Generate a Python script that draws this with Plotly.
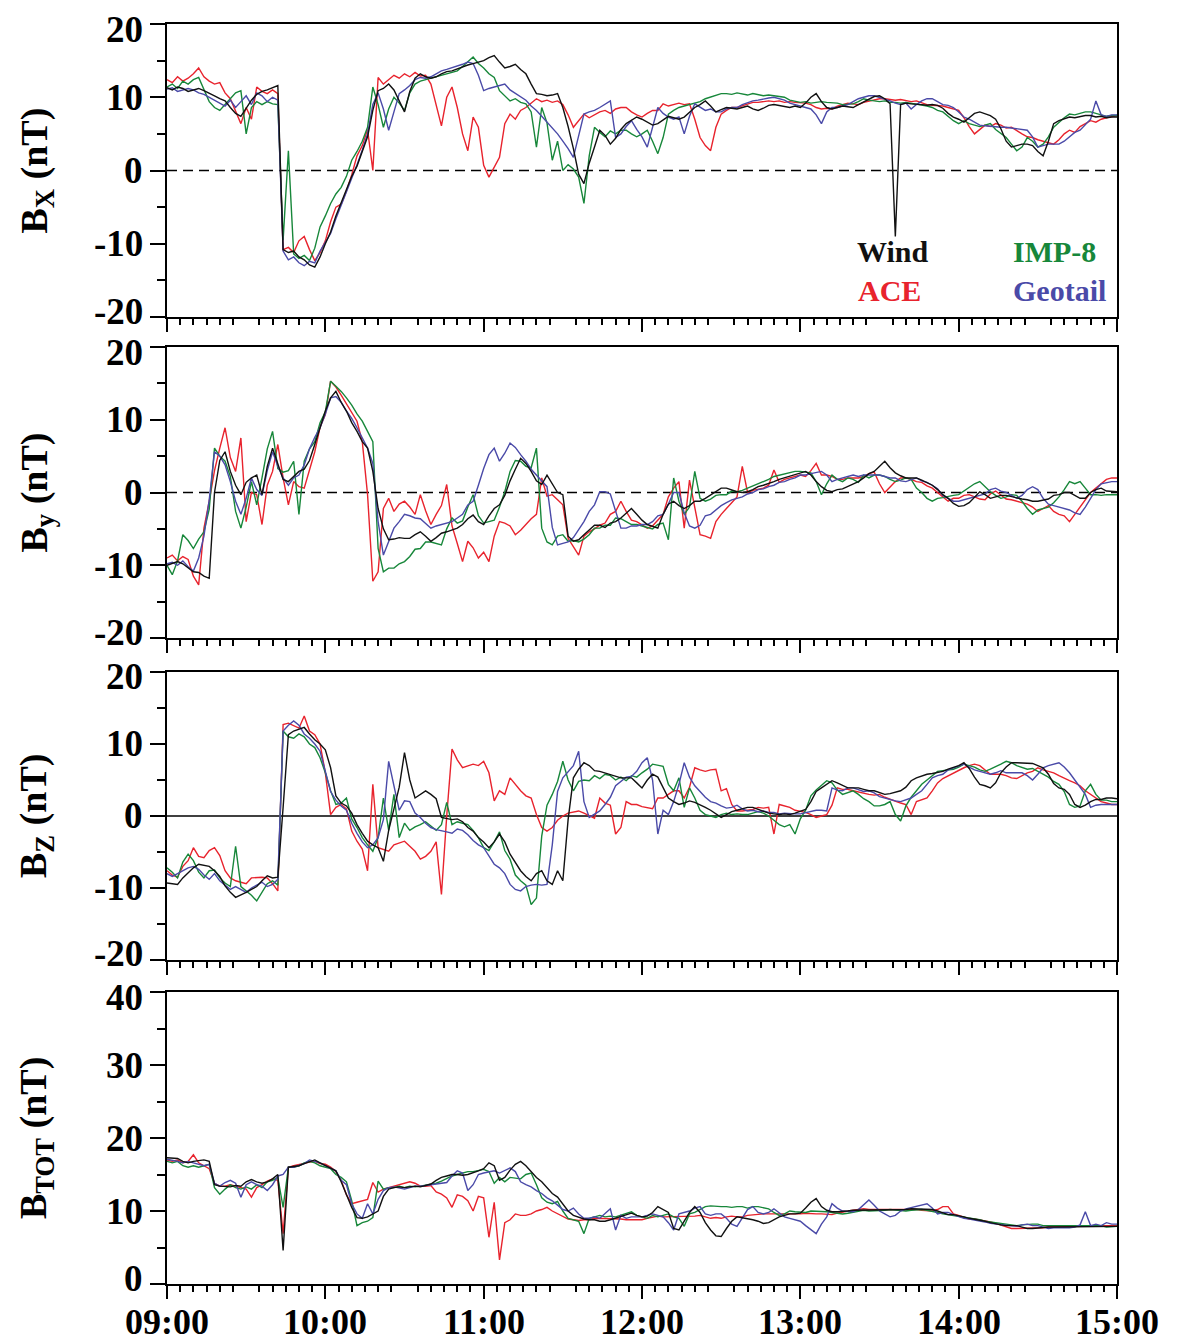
import plotly.graph_objects as go

# Sampling grid: minutes after 09:00 UT, every 2 minutes
minutes = list(range(0, 361, 2))

hour_ticks = [0, 60, 120, 180, 240, 300, 360]
hour_labels = ["09:00", "10:00", "11:00", "12:00", "13:00", "14:00", "15:00"]
half_hour_ticks = [30, 90, 150, 210, 270, 330]
five_min_ticks = [m for m in range(0, 361, 5) if m % 30 != 0]

# ---------------- Bx (nT) ----------------
wind_bx = [
    11.3, 11.0, 11.4, 11.2, 10.8, 11.0, 11.2, 10.9, 10.6, 10.2,
    9.8, 9.5, 8.6, 7.8, 7.4, 8.5, 9.6, 10.4, 10.8, 11.0,
    11.3, 11.6, -10.8, -11.2, -11.0, -11.8, -12.2, -12.9, -13.2, -11.8,
    -10.0, -8.4, -6.2, -4.4, -2.6, -0.8, 0.6, 2.6, 4.6, 8.2,
    10.9, 11.2, 11.8, 11.0, 9.6, 8.0, 10.8, 12.6, 13.2, 12.8,
    12.6, 12.8, 13.2, 13.5, 13.6, 13.9, 14.2, 14.4, 14.6, 14.8,
    15.0, 15.4, 15.7, 14.8, 14.0, 14.2, 14.5, 13.8, 13.2, 11.8,
    10.5, 10.4, 10.2, 10.3, 10.5, 8.6, 6.0, 3.0, -0.5, -1.8,
    1.0, 3.2, 5.5, 4.8, 3.6, 4.4, 5.6, 6.4, 6.8, 7.3,
    7.0, 6.6, 6.2, 6.4, 6.9, 7.4, 7.2, 7.0, 7.3, 8.0,
    8.6, 9.0, 9.5, 8.8, 8.0, 8.3, 8.6, 8.5, 8.4, 8.6,
    8.8, 8.4, 8.2, 8.5, 8.9, 9.0, 8.9, 8.7, 8.6, 8.8,
    8.6, 9.2, 10.0, 10.5, 9.4, 8.6, 8.4, 8.6, 8.8, 8.7,
    8.6, 9.0, 9.4, 9.8, 10.1, 10.2, 9.8, 9.1, -9.0, 9.0,
    9.2, 9.1, 9.1, 9.0, 8.9, 9.0, 8.9, 8.5, 7.8, 7.3,
    7.0, 6.6, 7.2, 7.8, 8.0, 7.8, 7.5, 7.0, 5.7, 4.0,
    3.2, 3.4, 3.6, 3.6, 3.4, 2.6, 2.0, 4.0, 6.4, 6.8,
    7.0, 7.3, 7.2, 7.4, 7.5, 7.5, 7.3, 7.4, 7.2, 7.3,
    7.3,
]
ace_bx = [
    12.4, 12.0, 12.8, 12.2, 12.6, 13.2, 14.0, 12.8, 12.2, 11.8,
    12.0, 10.6, 9.8, 8.2, 6.4, 8.6, 7.0, 11.4, 10.8, 10.5,
    11.0, 10.5, -10.8, -10.5, -11.2, -9.6, -9.0, -10.8, -12.3, -11.2,
    -9.6, -7.0, -5.0, -4.6, -2.8, -0.6, 2.0, 3.4, 5.6, 0.0,
    12.7, 11.8, 12.4, 13.0, 12.6, 13.2, 12.8, 13.4, 12.9, 13.0,
    11.8, 9.0, 6.1, 10.0, 11.4, 8.6, 5.0, 2.7, 7.3, 5.9,
    0.7, -0.9, 0.5, 1.8, 6.4, 7.7, 7.0, 8.2, 8.6, 9.2,
    9.8, 9.4, 9.6, 9.3, 9.5, 9.0, 7.6, 5.9, 6.8, 7.7,
    7.2, 7.6, 8.0, 8.2, 7.8, 8.4, 8.6, 8.6, 8.0, 7.6,
    7.3, 7.8, 8.2, 8.2, 9.1, 8.8, 9.0, 9.2, 9.0, 9.1,
    7.0, 4.5, 3.4, 2.7, 5.9, 7.7, 8.2, 8.6, 8.6, 8.8,
    9.0, 9.3, 9.3, 9.4, 9.5, 9.4, 9.5, 9.3, 9.4, 9.3,
    9.3, 9.2, 9.0, 8.6, 8.4, 8.5, 8.4, 8.8, 9.0, 9.2,
    9.1, 9.0, 9.3, 9.5, 9.6, 9.8, 9.8, 9.7, 9.6, 9.7,
    9.5, 9.4, 9.5, 9.2, 9.0, 8.9, 8.9, 8.8, 8.6, 8.4,
    8.2, 7.2, 6.0, 5.0, 5.6, 6.2, 6.0, 6.4, 6.2, 5.8,
    5.9, 5.4, 5.0, 4.6, 4.5, 4.2, 4.0, 3.8, 3.6, 4.2,
    5.0, 5.5, 5.2, 6.0, 6.4, 6.8, 6.6, 7.0, 7.2, 7.4,
    7.5,
]
imp8_bx = [
    11.4, 11.8, 11.2, 12.2, 11.8, 12.4, 12.7, 11.0, 9.4, 8.6,
    8.2, 9.0, 9.8, 10.6, 10.9, 5.0, 8.6, 9.4, 9.0, 9.4,
    9.1, 9.0, -9.5, 2.7, -11.4, -12.0, -11.6, -12.3, -10.6, -7.7,
    -6.2, -4.5, -3.2, -2.3, -0.8, 1.4, 2.6, 4.0, 5.9, 11.4,
    9.0, 5.9, 8.4, 10.0, 9.2, 8.2, 10.6, 11.8, 12.2, 12.4,
    12.7, 12.8, 13.0, 13.2, 13.4, 13.6, 14.2, 14.8, 15.5, 14.6,
    14.0, 13.2, 12.7, 10.9, 10.2, 9.5, 9.8, 9.3, 9.1, 8.0,
    3.2, 8.6, 6.5, 1.4, 4.0, 0.0, 0.8, 0.2, -0.9, -4.5,
    2.0, 5.9, 5.2, 4.6, 5.4, 5.0, 5.5, 5.5, 5.0, 4.6,
    5.0, 5.5, 4.0, 2.3, 4.5, 7.7, 8.2, 8.6, 8.8, 9.0,
    9.1, 9.4, 9.8, 10.0, 10.3, 10.5, 10.5, 10.4, 10.6, 10.5,
    10.3, 10.5, 10.4, 10.2, 10.3, 10.2, 10.2, 10.0, 9.6, 9.4,
    9.3, 9.4, 9.2, 9.3, 9.4, 9.3, 9.3, 9.2, 9.0, 9.0,
    9.1, 9.4, 9.8, 9.6, 9.5, 9.4, 9.5, 9.3, 9.3, 9.2,
    9.3, 9.2, 9.1, 9.0, 8.8, 8.6, 8.2, 8.0, 7.4, 6.8,
    6.4, 6.8, 6.4, 6.2, 6.0, 6.2, 6.4, 5.6, 5.0, 4.5,
    3.6, 2.7, 3.2, 4.5, 4.0, 3.2, 3.6, 4.6, 5.9, 6.6,
    7.2, 7.7, 7.6, 7.8, 8.0, 8.0, 7.8, 7.6, 7.4, 7.5,
    7.5,
]
geotail_bx = [
    11.1, 11.3, 10.8, 11.0, 11.2, 11.0, 10.6, 10.4, 10.0, 9.6,
    9.2, 8.8, 9.6, 8.6, 9.4, 10.2, 9.0, 10.6, 10.2, 9.4,
    10.0, 9.6, -11.0, -12.2, -11.8, -12.6, -13.0, -12.4, -12.6, -11.0,
    -9.8, -8.6, -6.6, -4.8, -3.0, -1.0, 0.8, 2.8, 5.0, 9.0,
    10.6, 8.4, 5.5, 8.0, 10.5, 11.0, 11.6, 12.4, 12.7, 12.6,
    12.8, 13.2, 13.6, 13.8, 14.0, 14.3, 14.5, 14.8, 14.6, 13.0,
    10.9, 11.2, 11.4, 11.6, 11.8, 11.0, 10.5, 10.0, 9.6, 8.8,
    8.2, 7.4, 6.6, 5.9, 5.0, 4.0, 3.0, 1.8, 4.6, 7.7,
    8.0, 8.2, 8.6, 9.0, 9.5, 4.5, 5.0, 6.0, 6.8, 5.6,
    4.6, 3.2, 5.8, 8.6, 7.8, 7.3, 7.0, 7.3, 5.0, 7.4,
    9.1, 8.6, 8.2, 8.4, 8.0, 8.0, 8.4, 8.6, 8.6, 9.0,
    9.3, 9.5, 9.6, 9.8, 9.9, 10.0, 9.8, 9.6, 9.2, 9.0,
    8.8, 8.6, 8.4, 7.6, 6.4, 8.0, 8.6, 8.6, 8.8, 9.0,
    9.4, 9.8, 10.0, 10.2, 10.2, 10.0, 9.8, 9.5, 9.2, 9.0,
    9.2, 8.4, 9.0, 9.5, 9.8, 9.8, 9.4, 9.0, 8.9, 8.6,
    8.0, 7.3, 7.0, 6.6, 6.2, 6.1, 6.0, 6.0, 5.9, 5.9,
    5.8, 5.6, 5.5, 5.5, 4.6, 3.2, 3.4, 3.6, 3.6, 3.6,
    4.0, 4.6, 5.2, 5.5, 6.2, 7.0, 9.5, 7.6, 7.4, 7.6,
    7.6,
]

# ---------------- By (nT) ----------------
wind_by = [
    -10.0, -9.8, -9.5, -9.8, -10.4, -10.9, -11.0, -11.5, -11.8, 0.0,
    4.4, 5.6, 2.9, 1.0, -0.3, 1.4, 2.0, 2.4, -0.3, 3.6,
    6.1, 4.0, 1.8, 1.5, 2.2, 2.9, 3.2, 4.4, 6.6, 8.9,
    11.2, 13.0, 13.9, 12.4, 11.2, 9.6, 8.4, 7.0, 6.1, 2.9,
    -2.2, -5.0, -6.5, -6.4, -6.2, -6.3, -6.3, -5.8, -5.4, -6.0,
    -6.7, -6.2, -5.6, -5.4, -5.2, -4.9, -4.4, -3.6, -3.1, -4.0,
    -4.4, -3.2, -2.2, -1.7, -0.4, 1.6, 3.2, 4.7, 4.0, 2.9,
    1.6, 1.1, 2.4, 1.2, 0.0, -0.3, -6.0, -6.7, -6.5, -5.8,
    -5.2, -4.5, -4.5, -4.8, -4.2, -4.0, -3.5, -2.8, -2.2, -3.0,
    -3.8, -4.4, -4.6, -4.9, -3.0, -1.6, -1.2, -1.8, -2.2, -1.8,
    -1.2, -1.2, -0.8, -0.3, 0.2, 0.6, 0.6, 0.3, 0.1, 0.0,
    0.1, 0.4, 0.8, 1.0, 1.2, 1.5, 1.8, 2.0, 2.2, 2.5,
    2.7, 2.9, 2.4, 1.5, 0.8, 0.3, 0.1, 0.4, 0.5, 0.8,
    1.2, 1.5, 2.0, 2.6, 2.9, 3.6, 4.3, 3.4, 2.7, 2.3,
    2.0, 2.0, 2.0, 1.7, 1.3, 1.0, 0.4, -0.3, -0.8, -1.5,
    -1.9, -1.8, -1.4, -0.6, 0.1, -0.3, -0.8, -0.6, -0.4, -0.4,
    -0.6, -0.8, -0.9, -1.0, -1.2, -1.2, -1.0, -0.9, -0.4, -0.3,
    0.0, 0.0, -0.4, -0.8, -0.8, 0.0, 0.4, 0.6, 0.2, 0.1,
    0.1,
]
ace_by = [
    -9.0, -8.6, -9.4, -8.8, -9.2, -11.5, -12.7, -4.9, -1.2, 3.0,
    6.1, 8.9, 4.8, 2.9, 7.5, -4.0, 0.0, -0.3, -4.4, 1.0,
    2.9, 6.6, 2.0, -1.7, 1.5, 0.8, 0.6, 3.0, 5.6, 9.0,
    10.7, 15.3, 14.5, 13.4, 12.2, 11.0, 9.8, 7.0, -0.3, -12.2,
    -10.9, -2.2, -0.8, -2.6, -1.6, -1.2, -2.0, -3.0, -0.3, -2.5,
    -4.4, -3.0, -1.8, 1.1, -4.6, -7.0, -9.5, -6.7, -7.6, -9.0,
    -8.2, -9.5, -6.0, -4.0, -4.2, -4.6, -5.8, -5.2, -4.4, -3.6,
    -3.0, 2.0, -0.5, -0.3, -1.0, -1.7, -6.3, -7.4, -8.6, -6.0,
    -5.4, -5.0, -4.5, -4.2, -3.0, -2.6, -1.2, -2.6, -3.8, -4.0,
    -4.4, -4.9, -4.6, -3.8, -3.0, -0.6, 0.6, 1.5, -4.9, 1.7,
    -2.0, -5.8, -6.0, -6.3, -4.0, -3.0, -2.2, -1.4, -0.6, 3.6,
    0.0, 0.3, 0.5, 0.6, 1.0, 3.1, 1.4, 1.8, 2.0, 2.2,
    2.4, 2.2, 3.0, 4.0, 2.4, 2.4, 2.2, 1.8, 1.8, 2.0,
    2.0, 2.0, 2.2, 2.6, 2.8, 1.2, 0.0, 0.8, 1.5, 2.0,
    2.0, 1.8, 1.5, 1.4, 0.9, 0.6, 0.0, -0.6, -1.2, -0.8,
    -0.8, -0.4, -0.3, -0.6, -0.9, -1.0, -0.2, 0.2, -0.4, -0.9,
    -1.0, -1.2, -1.4, -1.6, -2.0, -2.6, -2.2, -1.8, -2.6, -3.0,
    -3.2, -4.0, -3.0, -2.0, -1.0, 0.0, 0.6, 1.2, 1.8, 2.0,
    2.0,
]
imp8_by = [
    -10.0, -11.3, -9.4, -5.8, -6.6, -7.7, -6.4, -5.4, -2.3, 6.1,
    5.0, 4.3, 2.2, -2.6, -4.9, -2.0, 1.5, -1.7, 2.0, 6.0,
    8.4, 3.3, 2.8, 3.0, 4.3, -3.0, 4.3, 6.0, 7.0, 9.6,
    11.1, 15.3, 14.6, 13.9, 13.0, 12.0, 10.8, 9.8, 8.4, 7.0,
    -7.7, -10.9, -10.4, -10.4, -9.8, -9.5, -8.8, -7.8, -7.7, -6.8,
    -6.8, -7.0, -7.2, -5.0, -3.5, -4.2, -3.9, -2.0, -0.3, -3.2,
    -4.2, -4.0, -3.8, -2.0, 0.1, 2.9, 4.4, 4.3, 3.6, 3.4,
    6.1, -4.9, -6.8, -7.2, -6.0, -5.8, -6.7, -6.6, -6.8, -6.4,
    -5.8, -4.9, -4.9, -4.5, -4.5, -3.5, -3.6, -4.0, -4.4, -4.4,
    -4.6, -4.9, -5.0, -4.4, -4.2, -6.5, 2.0, -1.2, -3.0, -2.0,
    2.9, -0.8, -1.2, -0.9, -0.4, -0.3, -0.3, 0.2, 0.1, 0.3,
    0.6, 0.9, 1.1, 1.4, 1.8, 2.2, 2.4, 2.6, 2.7, 2.9,
    2.9, 2.8, 2.7, 1.5, -0.3, 1.2, 2.4, 1.8, 1.5, 2.0,
    1.8, 1.4, 2.4, 2.0, 2.4, 2.4, 2.2, 1.8, 1.5, 1.7,
    2.0, 1.8, 0.6, 0.0, -0.8, -1.2, -0.8, -0.7, -0.5, -0.4,
    -0.3, 0.2, 0.6, 1.2, 1.5, 0.8, 0.1, -0.4, -0.8, -0.6,
    -0.3, -0.4, -1.2, -2.2, -3.0, -2.4, -2.2, -2.0, -1.4, -0.6,
    0.4, 1.5, 1.2, 1.5, 0.6, -0.3, -0.3, -0.4, -0.3, -0.3,
    -0.3,
]
geotail_by = [
    -9.8, -9.6, -10.0, -9.4, -10.2, -10.8, -9.0, -6.0, -1.0, 5.6,
    5.0, 3.8, 1.5, -1.2, -3.0, -0.8, 2.0, 0.4, -0.4, 3.0,
    5.6, 3.6, 2.0, 1.0, 2.0, 2.4, 3.8, 6.0, 7.6, 8.9,
    10.8, 13.0, 13.2, 12.4, 11.2, 10.2, 8.9, 7.4, 6.1, 4.0,
    -4.0, -8.6, -6.8, -4.9, -4.0, -3.0, -3.2, -3.5, -3.6, -4.2,
    -4.9, -4.6, -4.4, -4.2, -4.0, -3.5, -3.0, -1.7, -1.2, 1.0,
    3.3, 5.2, 6.1, 4.3, 5.4, 6.8, 6.2, 5.2, 4.3, 3.2,
    2.4, 1.6, 0.8, -4.8, -7.2, -7.0, -6.8, -6.2, -5.0, -4.0,
    -2.6, -1.7, 0.1, 0.1, -0.2, -2.5, -4.9, -4.9, -4.6, -4.6,
    -4.4, -4.4, -4.0, -3.2, -3.0, -1.6, 0.0, 0.0, -2.8, -4.6,
    -4.9, -4.5, -3.2, -3.0, -2.4, -1.8, -1.4, -1.0, -0.8, -0.6,
    -0.2, 0.0, 0.4, 0.5, 0.8, 1.0, 1.4, 1.5, 1.8, 2.0,
    2.4, 2.4, 2.6, 2.8, 2.9, 2.4, 1.5, 1.8, 2.0, 2.2,
    2.4, 2.2, 2.4, 2.4, 2.4, 2.4, 2.2, 2.0, 2.0, 1.6,
    1.5, 1.8, 2.0, 1.6, 1.4, 1.0, 0.5, -0.4, -0.8, -1.2,
    -1.2, -1.0, -0.8, -0.6, -0.4, -0.2, 0.4, 0.6, 0.2, 0.0,
    -0.4, -0.8, -0.4, 0.4, 0.8, 0.4, -0.8, -1.6, -1.8, -2.0,
    -2.2, -2.4, -2.8, -3.0, -2.0, -0.8, 0.4, 1.2, 1.4, 1.5,
    1.5,
]

# ---------------- Bz (nT) ----------------
wind_bz = [
    -9.3, -9.4, -9.5, -8.6, -7.9, -7.2, -6.7, -6.8, -7.0, -7.6,
    -8.4, -9.7, -10.6, -11.3, -11.0, -10.6, -10.2, -9.8, -9.0, -8.3,
    -8.6, -8.5, 1.2, 11.3, 11.8, 12.0, 12.3, 11.4, 10.6, 10.0,
    9.2, 6.7, 2.8, 1.8, 1.4, 0.4, -1.2, -2.4, -3.5, -4.0,
    -4.4, -6.3, -2.0, 1.0, 4.0, 8.8, 5.0, 2.5, 3.0, 3.5,
    3.0, 2.4, -0.2, -0.4, -0.5, -0.4, -0.8, -1.6, -2.1, -3.0,
    -3.6, -4.4, -3.6, -2.5, -3.6, -5.3, -6.4, -7.6, -8.4, -9.0,
    -8.0, -7.6, -9.0, -9.5, -7.6, -9.0, -0.5, 5.3, 6.5, 7.4,
    7.0, 6.3, 6.2, 6.0, 5.8, 5.6, 5.3, 5.3, 5.3, 4.6,
    3.9, 5.0, 5.8, 5.4, 4.0, 2.5, 2.0, 1.6, 1.8, 2.1,
    1.9, 1.6, 1.2, 0.8, 0.3, -0.2, 0.2, 0.6, 0.8, 1.0,
    1.2, 1.2, 0.9, 0.7, 0.4, 0.3, 0.2, 0.3, 0.2, 0.4,
    0.7, 0.9, 2.0, 3.4, 3.9, 4.4, 4.9, 4.6, 4.2, 3.9,
    3.9, 3.9, 3.7, 3.5, 3.5, 3.3, 3.0, 3.1, 3.3, 3.5,
    4.0, 4.9, 5.3, 5.6, 5.8, 5.9, 6.0, 6.2, 6.5, 6.7,
    7.0, 7.4, 6.6, 5.4, 4.4, 4.2, 3.9, 4.6, 6.0, 6.8,
    7.4, 7.4, 7.4, 7.4, 7.3, 7.0, 6.7, 5.8, 4.5, 3.9,
    3.7, 3.0, 1.6, 1.2, 1.5, 2.0, 2.3, 2.3, 2.5, 2.5,
    2.4,
]
ace_bz = [
    -7.6, -8.2, -8.5, -7.0, -6.2, -4.4, -5.6, -5.8, -4.8, -4.4,
    -5.5, -7.6, -8.6, -9.0, -9.2, -9.4, -8.6, -8.5, -8.5, -8.6,
    -9.4, -10.4, 12.7, 12.9, 12.6, 12.2, 13.9, 11.8, 11.3, 10.0,
    6.0, 0.2, 1.2, 1.6, 1.0, -2.1, -3.5, -4.6, -7.6, 4.4,
    -4.4, -4.6, -4.9, -4.0, -3.8, -3.5, -4.2, -4.9, -6.0, -5.6,
    -4.9, -3.6, -10.9, 0.0, 9.3, 7.8, 6.7, 7.0, 7.2, 7.0,
    7.6, 6.0, 2.1, 3.5, 3.0, 5.3, 4.4, 3.5, 2.8, 2.5,
    0.2, -1.6, -2.1, -1.6, -0.6, 0.0, 0.4, 0.6, 0.7, 0.4,
    0.0, -0.3, 2.5, 1.8, 1.5, -2.5, -1.6, 2.0, 1.6, 1.6,
    1.3, 1.2, 1.0, 2.5, 2.5, 3.0, 3.5, 3.5, 2.5, 4.0,
    6.7, 6.4, 6.2, 6.4, 6.5, 3.5, 3.8, 1.6, 0.7, 0.7,
    0.8, 0.9, 1.2, 1.1, 1.2, -2.5, 1.6, 1.4, 1.2, 0.8,
    0.7, 0.5, 0.2, -0.2, 0.0, 0.2, 1.5, 3.9, 3.7, 3.7,
    3.5, 3.3, 3.1, 3.0, 2.9, 3.0, 2.6, 2.3, 2.0, 1.8,
    1.6, 0.2, 2.0, 2.2, 2.5, 3.5, 4.6, 5.2, 5.6, 6.0,
    6.4, 6.7, 7.0, 7.2, 7.0, 6.4, 5.8, 5.8, 5.8, 5.6,
    5.3, 5.2, 5.6, 6.0, 6.2, 6.7, 6.4, 6.2, 6.0, 5.6,
    5.2, 4.9, 4.6, 4.2, 3.5, 3.0, 2.4, 2.0, 1.8, 1.6,
    1.6,
]
imp8_bz = [
    -7.2, -7.8, -8.6, -6.4, -5.3, -6.2, -7.8, -8.6, -7.6, -7.5,
    -8.6, -9.3, -9.8, -4.2, -9.8, -10.4, -11.0, -11.8, -10.6, -9.4,
    -9.0, -9.6, 11.8, 11.0, 10.8, 11.4, 11.0, 10.0, 9.5, 8.1,
    6.0, 3.5, 1.6, 1.8, 2.5, -0.4, -1.6, -3.0, -4.0, -4.9,
    -3.0, 2.5, -2.0, 3.0, -3.0, -1.0, -2.0, -1.5, -1.2, -0.8,
    -1.4, -2.0, -1.2, 1.9, -1.2, -0.8, -1.0, -1.2, -2.0, -3.0,
    -4.4, -4.8, -3.6, -2.2, -4.8, -6.0, -8.2, -9.0, -9.6, -12.3,
    -11.4, -2.8, 1.5, 3.0, 4.8, 7.6, 5.0, 3.5, 4.8, 5.0,
    4.9, 5.6, 5.2, 5.8, 5.6, 5.0, 5.4, 4.9, 5.6, 5.4,
    6.0, 6.5, 7.2, 7.0, 6.9, 4.4, 3.5, 5.3, 1.2, 3.9,
    2.5, 0.8, 0.2, 0.0, -0.2, 0.2, 0.4, 0.2, 0.3, 0.2,
    0.2, 0.4, 0.6, 0.4, 0.0, -0.6, -1.2, -1.5, -1.2, -2.5,
    -0.4, 0.8, 2.8, 3.6, 4.2, 4.9, 4.6, 3.6, 3.0, 3.2,
    3.5, 3.0, 2.4, 2.0, 1.4, 1.4, 1.6, 2.0, 0.2, -0.7,
    1.4, 2.6, 3.5, 4.4, 5.0, 5.6, 6.2, 6.3, 6.4, 6.5,
    6.8, 7.2, 7.0, 6.8, 6.4, 6.2, 6.5, 6.8, 7.2, 7.6,
    7.4, 7.0, 6.8, 6.5, 6.6, 6.2, 5.8, 5.4, 4.8, 4.4,
    3.4, 1.6, 1.2, 1.4, 3.5, 4.4, 3.0, 2.2, 2.2, 2.0,
    2.0,
]
geotail_bz = [
    -8.0, -8.4, -8.0, -7.6, -7.2, -7.0, -7.4, -8.2, -8.8, -8.0,
    -9.0, -9.6, -10.2, -9.8, -10.2, -10.6, -10.0, -9.6, -9.2, -9.8,
    -9.5, -8.8, 11.8, 12.6, 13.2, 12.6, 11.4, 10.8, 10.0, 9.0,
    6.0, 3.4, 2.2, 1.4, 0.8, -1.0, -2.4, -3.6, -4.4, -4.0,
    -3.0, -0.5, 7.6, 4.0, 0.8, 2.1, 2.0, 0.4, -0.2, -1.0,
    -1.6, -1.9, -2.0, -2.2, -2.4, -1.8, -2.0, -2.6, -3.4, -4.0,
    -4.4, -5.6, -6.7, -7.2, -8.0, -9.5, -10.2, -10.4, -9.8, -9.6,
    -9.5, -9.6, -9.5, -4.0, 3.4, 5.3, 6.2, 7.0, 9.0, 2.0,
    -0.2, 0.2, 0.7, 1.6, 2.6, 4.2, 4.8, 5.4, 5.5, 6.2,
    7.4, 8.1, 5.0, -2.5, 0.8, 0.2, 2.0, 4.4, 7.4, 5.4,
    4.2, 3.4, 2.6, 2.0, 1.8, 1.4, 1.1, 1.2, 1.5, 1.0,
    0.7, 0.8, 0.6, 0.7, 0.5, 0.5, 0.3, 0.4, 0.3, 0.3,
    0.3, 0.5, 0.7, 0.8, 0.8, 0.7, 3.9, 3.6, 3.5, 3.9,
    3.9, 3.6, 3.4, 3.5, 3.2, 2.7, 2.5, 2.2, 2.1, 2.0,
    2.2, 2.5, 3.0, 3.5, 4.4, 5.3, 5.6, 5.8, 6.4, 6.7,
    7.0, 7.2, 6.8, 6.4, 6.2, 6.0, 5.8, 6.0, 6.3, 6.0,
    6.0, 6.0, 6.0, 5.6, 5.0, 5.8, 6.7, 7.0, 7.2, 7.4,
    6.8, 6.0, 5.0, 4.0, 3.0, 1.2, 1.5, 1.6, 1.6, 1.6,
    1.6,
]

# ---------------- |B| (nT) ----------------
wind_bt = [
    17.3, 17.3, 17.2, 16.8, 16.6, 16.8, 16.9, 17.0, 16.8, 13.6,
    13.4, 13.4, 13.3, 13.5, 13.4, 14.0, 14.3, 14.0, 13.8, 14.0,
    14.4, 15.0, 4.6, 16.0, 16.1, 16.2, 16.5, 16.8, 17.0, 16.6,
    16.2, 15.9, 15.5, 14.0, 12.3, 10.5, 9.1, 9.0, 9.2, 9.6,
    10.0, 12.0, 13.0, 13.2, 13.3, 13.2, 13.3, 13.4, 13.3, 13.5,
    13.7, 14.2, 14.6, 14.8, 15.0, 15.0, 14.9, 15.0, 15.2, 15.5,
    15.8, 16.6, 16.2, 14.2, 14.6, 15.6, 16.4, 16.8, 16.2, 15.4,
    14.6, 14.0, 13.2, 12.4, 11.9, 11.0, 10.0, 9.4, 9.1, 8.9,
    8.8, 8.8, 8.6, 8.6, 8.8, 9.0, 9.2, 9.5, 9.7, 9.4,
    9.2, 9.3, 9.8, 10.6, 10.2, 9.8, 7.6, 7.4, 8.6, 9.8,
    10.6, 9.8, 8.4, 7.4, 6.6, 6.5, 7.6, 8.6, 9.2, 9.1,
    9.0, 8.8, 8.6, 8.3, 8.4, 8.8, 9.2, 9.4, 9.6, 9.6,
    9.7, 10.4, 11.2, 11.7, 10.6, 10.1, 9.9, 9.9, 9.9, 10.0,
    10.1, 10.1, 10.1, 10.1, 10.1, 10.1, 10.1, 10.2, 10.2, 10.2,
    10.2, 10.3, 10.3, 10.3, 10.2, 10.2, 10.0, 9.7, 9.5, 9.5,
    9.4, 9.2, 9.0, 8.9, 8.8, 8.6, 8.4, 8.2, 8.1, 8.0,
    8.0, 8.0, 7.8, 7.6, 7.6, 7.7, 7.8, 7.8, 7.8, 7.8,
    7.8, 7.8, 7.8, 7.9, 7.9, 7.9, 7.9, 7.9, 7.8, 7.9,
    7.9,
]
ace_bt = [
    17.0, 16.8, 17.0, 16.6, 16.8, 17.7, 16.6, 16.2, 15.8, 13.8,
    13.4, 13.4, 13.6, 13.4, 13.2, 13.0, 11.9, 13.2, 13.6, 14.1,
    14.4, 14.2, 6.9, 16.0, 16.2, 16.4, 16.5, 16.7, 16.8, 16.5,
    16.4, 16.0, 15.4, 14.2, 12.2, 11.0, 11.2, 11.4, 11.6, 13.9,
    12.6, 13.0, 13.2, 13.4, 13.7, 13.9, 14.0, 13.8, 13.4, 13.4,
    13.5, 12.6, 12.3, 11.8, 10.5, 12.2, 12.0, 11.4, 10.0, 12.0,
    11.8, 6.4, 11.2, 3.3, 8.4, 8.8, 9.6, 9.4, 9.4, 9.6,
    10.0, 10.2, 10.5, 10.0, 9.6, 9.2, 8.9, 8.8, 8.7, 8.8,
    8.8, 9.0, 9.0, 8.9, 8.9, 9.0, 8.9, 8.8, 8.8, 8.7,
    8.8, 9.0, 9.2, 9.3, 9.2, 9.2, 9.3, 9.2, 9.2, 9.3,
    9.3, 9.4, 9.2, 9.0, 9.1, 9.0, 9.2, 9.3, 9.2, 9.2,
    9.4, 9.5, 9.6, 9.6, 9.6, 9.6, 9.6, 9.5, 9.6, 9.6,
    9.6, 9.7, 9.6, 9.6, 9.6, 9.5, 9.5, 9.7, 9.9, 10.0,
    10.1, 10.2, 10.3, 10.2, 10.2, 10.3, 10.3, 10.2, 10.3, 10.3,
    10.3, 10.2, 10.2, 10.1, 10.1, 10.0, 10.2, 10.6, 10.6, 9.6,
    9.4, 9.1, 8.9, 8.9, 8.8, 8.6, 8.5, 8.3, 8.1, 7.8,
    7.6, 7.6, 7.6, 7.6, 7.6, 7.7, 7.7, 7.8, 7.8, 7.8,
    7.9, 7.9, 7.9, 7.9, 8.0, 8.0, 8.0, 8.1, 8.0, 8.0,
    8.0,
]
imp8_bt = [
    16.8, 16.6, 16.8, 16.2, 16.0, 16.2, 16.0, 16.2, 16.4, 13.2,
    12.3, 13.0, 13.6, 13.2, 13.0, 13.3, 13.0, 13.6, 13.2, 14.0,
    14.2, 14.6, 10.5, 16.0, 16.0, 16.2, 16.6, 16.8, 16.6, 16.2,
    16.0, 15.8, 15.0, 14.6, 14.0, 11.4, 8.0, 8.4, 8.6, 9.1,
    14.1, 13.0, 13.2, 13.2, 13.4, 13.2, 13.4, 13.3, 13.4, 13.5,
    13.6, 13.8, 14.1, 14.5, 14.8, 15.0, 15.2, 15.4, 15.4, 15.6,
    15.7, 15.4, 13.8, 14.6, 14.0, 14.6, 14.5, 14.4, 15.0, 15.2,
    13.6, 11.8, 11.2, 11.0, 11.3, 10.0, 9.0, 8.8, 8.6, 6.9,
    9.0, 9.2, 9.4, 9.2, 9.3, 9.2, 9.4, 9.6, 9.9, 9.4,
    9.2, 9.0, 9.4, 9.2, 9.4, 9.6, 9.2, 9.0, 7.9, 9.6,
    9.8, 10.2, 10.6, 10.7, 10.6, 10.6, 10.6, 10.5, 10.6, 10.6,
    10.4, 10.6, 10.6, 10.5, 10.3, 9.8, 9.4, 9.6, 10.0, 9.9,
    9.8, 9.8, 10.0, 10.0, 10.0, 9.9, 9.8, 9.7, 9.6, 9.7,
    9.8, 10.0, 10.1, 10.0, 10.0, 10.1, 10.1, 10.2, 10.1, 10.1,
    10.0, 10.1, 10.2, 10.2, 10.1, 10.0, 9.8, 9.6, 9.5, 9.4,
    9.3, 9.2, 9.0, 8.9, 8.8, 8.6, 8.5, 8.4, 8.2, 8.1,
    8.0, 8.0, 8.1, 8.2, 8.2, 8.2, 8.0, 8.0, 8.0, 7.9,
    7.9, 8.0, 8.0, 8.0, 8.0, 7.9, 8.0, 8.0, 7.8, 7.9,
    7.9,
]
geotail_bt = [
    17.1, 17.0, 16.8, 16.6, 16.8, 16.6, 16.4, 16.2, 16.4, 13.8,
    13.4, 13.9, 14.2, 13.8, 11.9, 13.6, 14.0, 13.6, 13.4, 12.8,
    13.6, 14.8, 15.0, 16.0, 16.0, 16.2, 16.5, 17.0, 16.8, 16.6,
    16.2, 15.8, 15.5, 14.2, 13.6, 11.0, 9.6, 9.0, 11.0, 9.6,
    11.6, 12.8, 13.2, 13.3, 13.2, 13.0, 13.2, 13.4, 13.4, 13.5,
    13.6, 13.6, 13.7, 13.9, 14.8, 15.5, 15.2, 12.8, 13.6, 15.0,
    15.2, 15.4, 15.5, 15.2, 15.6, 15.9, 15.4, 14.0, 13.6, 13.3,
    12.8, 12.4, 11.8, 11.4, 10.8, 10.2, 10.0, 10.4, 9.6, 9.0,
    9.0, 9.2, 9.0, 9.6, 10.3, 7.4, 9.4, 9.0, 9.2, 9.2,
    9.2, 9.4, 9.6, 9.4, 9.2, 8.4, 7.4, 9.6, 9.8, 10.0,
    10.4, 10.6, 9.6, 9.4, 9.6, 9.6, 9.0, 8.2, 7.9, 9.0,
    10.2, 10.6, 9.8, 9.6, 9.8, 10.3, 9.8, 9.2, 9.0, 8.8,
    8.6, 8.0, 7.4, 6.9, 8.2, 9.2, 11.0, 10.4, 10.0, 9.9,
    9.9, 10.2, 10.8, 11.5, 10.8, 10.0, 9.6, 9.2, 9.4, 10.0,
    10.3, 10.5, 10.6, 10.8, 11.0, 10.4, 9.6, 9.8, 9.8, 9.5,
    9.2, 9.0, 8.9, 8.8, 8.6, 8.5, 8.3, 8.2, 8.1, 8.0,
    8.0, 7.9, 8.1, 8.2, 8.0, 8.0, 7.8, 7.6, 7.7, 7.7,
    7.6, 7.7, 7.8, 8.1, 9.9, 8.0, 8.2, 8.0, 8.4, 8.2,
    8.2,
]

spacecraft = ["ACE", "IMP-8", "Geotail", "Wind"]
colors = {"ACE": "#e8232d", "IMP-8": "#17873a", "Geotail": "#4a4aa8", "Wind": "#111111"}

panels = [
    {"title": "B<sub>X</sub> (nT)", "range": [-20, 20],
     "ticks": [-20, -10, 0, 10, 20], "labels": ["-20", "-10", "0", "10", "20"],
     "minor": [-15, -5, 5, 15], "zero": "dash",
     "data": {"ACE": ace_bx, "IMP-8": imp8_bx, "Geotail": geotail_bx, "Wind": wind_bx}},
    {"title": "B<sub>y</sub> (nT)", "range": [-20, 20],
     "ticks": [-20, -10, 0, 10, 20], "labels": ["-20", "-10", "0", "10", "20"],
     "minor": [-15, -5, 5, 15], "zero": "dash",
     "data": {"ACE": ace_by, "IMP-8": imp8_by, "Geotail": geotail_by, "Wind": wind_by}},
    {"title": "B<sub>Z</sub> (nT)", "range": [-20, 20],
     "ticks": [-20, -10, 0, 10, 20], "labels": ["-20", "-10", "0", "10", "20"],
     "minor": [-15, -5, 5, 15], "zero": "solid",
     "data": {"ACE": ace_bz, "IMP-8": imp8_bz, "Geotail": geotail_bz, "Wind": wind_bz}},
    {"title": "B<sub>TOT</sub> (nT)", "range": [0, 40],
     "ticks": [0, 10, 20, 30, 40], "labels": ["0", "10", "20", "30", "40"],
     "minor": [5, 15, 25, 35], "zero": None,
     "data": {"ACE": ace_bt, "IMP-8": imp8_bt, "Geotail": geotail_bt, "Wind": wind_bt}},
]

W, H = 1182, 1343
ML, MR, MT, MB = 167, 65, 24, 59
plot_h = H - MT - MB
# panel extents in page pixels (top, bottom)
panel_px = [(24, 317), (347, 638), (672, 960), (992, 1284)]

serif = "Liberation Serif"
tick_font = dict(family=serif, size=37, color="black", weight="bold")
time_font = dict(family=serif, size=36, color="black", weight="bold")


def axis_id(n):
    return "" if n == 1 else str(n)


fig = go.Figure()
layout = dict(
    width=W, height=H,
    margin=dict(l=ML, r=MR, t=MT, b=MB, autoexpand=False),
    paper_bgcolor="white", plot_bgcolor="white",
    showlegend=False,
    shapes=[], annotations=[],
)

for i, p in enumerate(panels, start=1):
    sid = axis_id(i)
    xa, ya = "x" + sid, "y" + sid
    for sc in spacecraft:
        fig.add_trace(go.Scatter(
            x=minutes, y=p["data"][sc], mode="lines", name=sc,
            line=dict(color=colors[sc], width=1.4),
            xaxis=xa, yaxis=ya, hoverinfo="skip",
        ))
    top, bot = panel_px[i - 1]
    dom = [1 - (bot - MT) / plot_h, 1 - (top - MT) / plot_h]

    layout["xaxis" + sid] = dict(
        domain=[0, 1], anchor=ya, range=[0, 360], automargin=False,
        showline=True, linecolor="black", linewidth=2, mirror=True,
        showgrid=False, zeroline=False,
        ticks="outside", ticklen=13, tickwidth=2, tickcolor="black",
        tickmode="array", tickvals=hour_ticks, showticklabels=False,
        minor=dict(tickmode="array", tickvals=five_min_ticks, ticks="outside",
                   ticklen=6, tickwidth=1.5, tickcolor="black", showgrid=False),
    )
    # half-hour ticks, slightly shorter than the hour ticks
    layout["xaxis" + str(i + 4)] = dict(
        overlaying=xa, anchor=ya, side="bottom", range=[0, 360], automargin=False,
        showline=False, showgrid=False, zeroline=False,
        ticks="outside", ticklen=10, tickwidth=1.8, tickcolor="black",
        tickmode="array", tickvals=half_hour_ticks, showticklabels=False,
    )
    layout["yaxis" + sid] = dict(
        domain=dom, anchor=xa, range=p["range"], automargin=False,
        showline=True, linecolor="black", linewidth=2, mirror=True,
        showgrid=False, zeroline=False,
        ticks="outside", ticklen=15, tickwidth=2, tickcolor="black",
        tickmode="array", tickvals=p["ticks"], showticklabels=False,
        minor=dict(tickmode="array", tickvals=p["minor"], ticks="outside",
                   ticklen=8, tickwidth=1.5, tickcolor="black", showgrid=False),
    )
    # value labels beside the y ticks; the end labels sit a little inside the frame
    n_ticks = len(p["ticks"])
    for k, (val, lab) in enumerate(zip(p["ticks"], p["labels"])):
        shift = 6 if k == 0 else (-5 if k == n_ticks - 1 else 0)
        layout["annotations"].append(dict(
            text=lab, xref=xa + " domain", yref=ya, x=0, y=val,
            xanchor="right", yanchor="middle", xshift=-22, yshift=shift,
            showarrow=False, font=tick_font,
        ))
    if p["zero"]:
        layout["shapes"].append(dict(
            type="line", xref=xa + " domain", yref=ya, x0=0, x1=1, y0=0, y1=0,
            line=dict(color="black", width=1.6,
                      dash="10px,6px" if p["zero"] == "dash" else "solid"),
            layer="below",
        ))
    layout["annotations"].append(dict(
        text=p["title"], xref=xa + " domain", yref=ya + " domain",
        x=(36 - ML) / (W - ML - MR), y=0.5, xanchor="center", yanchor="middle",
        textangle=-90, showarrow=False,
        font=dict(family=serif, size=38, color="black", weight="bold"),
    ))

# time labels under the bottom panel
for t, lab in zip(hour_ticks, hour_labels):
    layout["annotations"].append(dict(
        text=lab, xref="x4", yref="y4 domain", x=t, y=0,
        xanchor="center", yanchor="middle", yshift=-38,
        showarrow=False, font=time_font,
    ))

# spacecraft key inside the Bx panel
key = [("Wind", 0.764, 0.222), ("ACE", 0.760, 0.089),
       ("IMP-8", 0.934, 0.222), ("Geotail", 0.939, 0.089)]
for name, kx, ky in key:
    layout["annotations"].append(dict(
        text=name, xref="x domain", yref="y domain", x=kx, y=ky,
        xanchor="center", yanchor="middle", showarrow=False,
        font=dict(family=serif, size=30, color=colors[name], weight="bold"),
    ))

fig.update_layout(**layout)
fig.write_html("out.html")
